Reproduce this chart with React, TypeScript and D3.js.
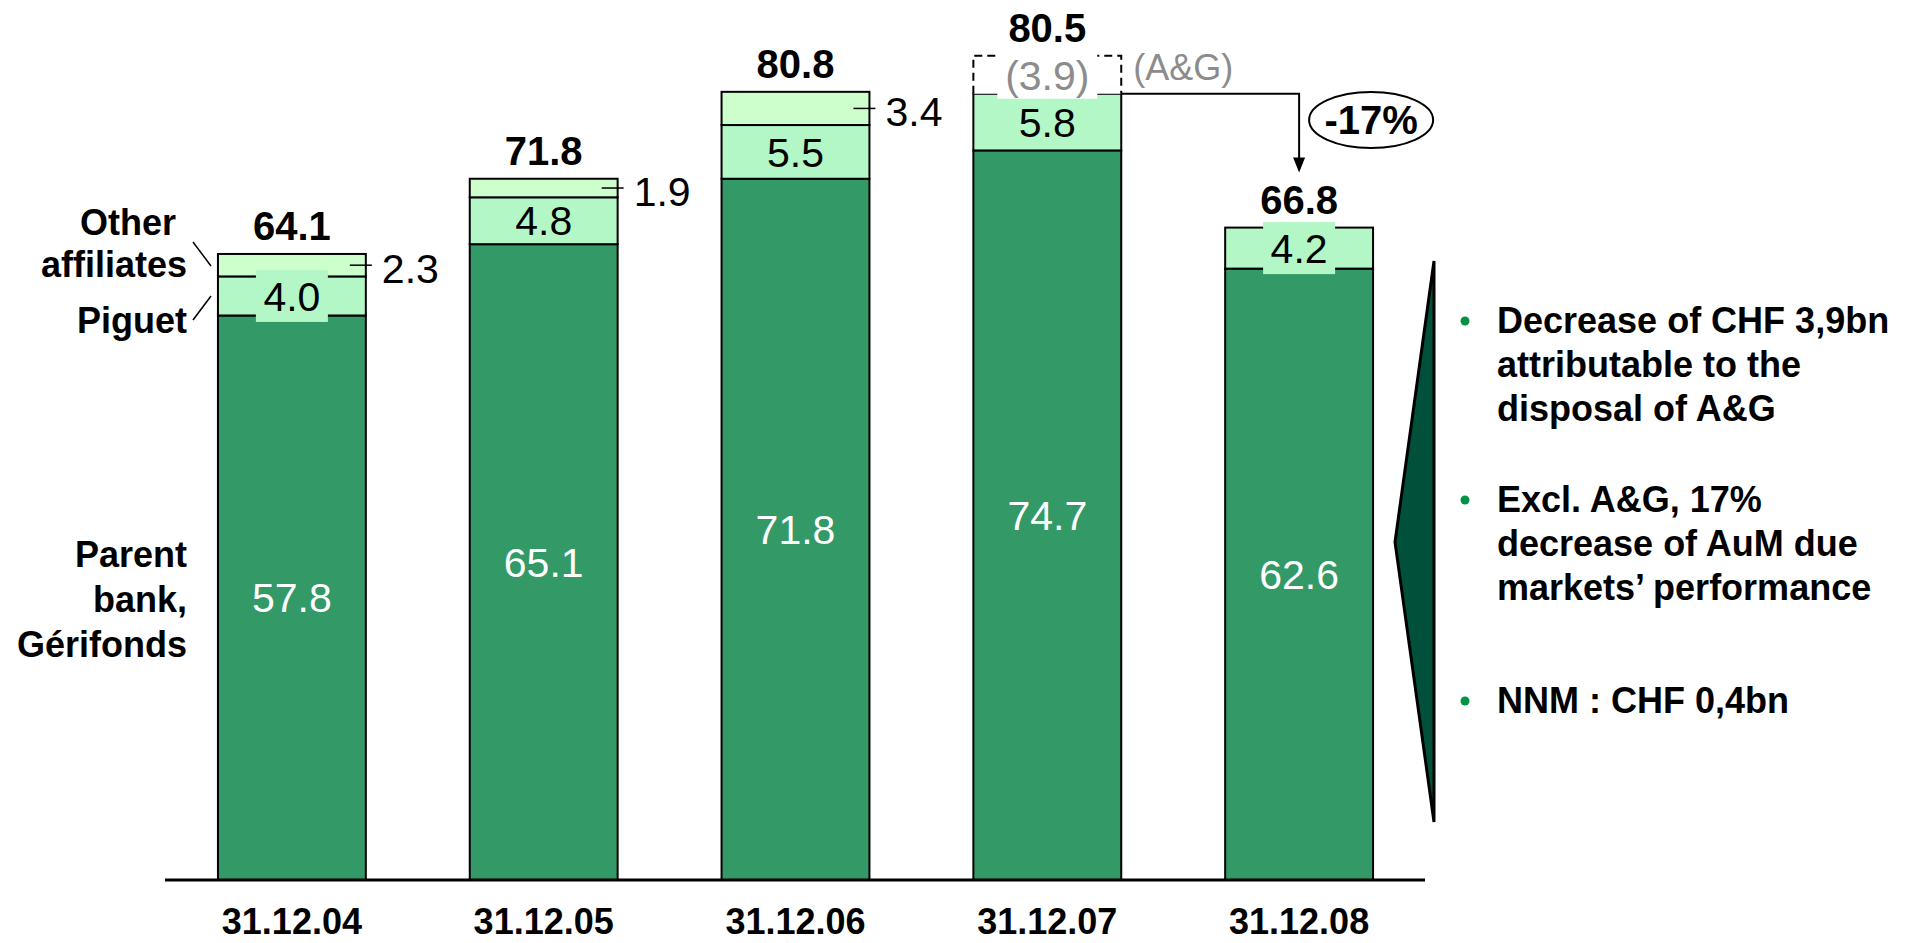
import React from 'react';
import * as d3 from 'd3';

const categories = ['31.12.04', '31.12.05', '31.12.06', '31.12.07', '31.12.08'];
const parentBank = [57.8, 65.1, 71.8, 74.7, 62.6];
const piguet = [4.0, 4.8, 5.5, 5.8, 4.2];
const otherAffiliates: (number | null)[] = [2.3, 1.9, 3.4, null, null];
const disposedAG: (number | null)[] = [null, null, null, 3.9, null];
const totals = [64.1, 71.8, 80.8, 80.5, 66.8];
const changeLabel = '-17%';
const disposedName = '(A&G)';
const seriesNames = { other: ['Other', 'affiliates'], piguet: ['Piguet'], parent: ['Parent', 'bank,', 'Gérifonds'] };
const bullets = [
  ['Decrease of CHF 3,9bn', 'attributable to the', 'disposal of A&G'],
  ['Excl. A&G, 17%', 'decrease of AuM due', 'markets’ performance'],
  ['NNM : CHF 0,4bn'],
];

const W = 1921;
const H = 943;
const FONT = '"Liberation Sans", Arial, Helvetica, sans-serif';
const C_PARENT = '#339966';
const C_PIGUET = '#b3f7c6';
const C_OTHER = '#ccffcc';
const C_TRI = '#00503a';
const C_BULLET = '#009245';
const C_GRAY = '#8c8c8c';

export default function App() {
  const x = d3.scaleBand<string>().domain(categories).range([166, 1425]).paddingInner(0.4127).paddingOuter(0.2063);
  const y = d3.scaleLinear().domain([0, 90]).range([880, 1]);
  const bw = x.bandwidth();
  const capV = 41 * 0.716;

  const bars = categories.map((c, i) => {
    const x0 = x(c)!;
    const cx = x0 + bw / 2;
    const p0 = 0;
    const p1 = parentBank[i];
    const g1 = p1 + piguet[i];
    const o = otherAffiliates[i];
    const g2 = o != null ? g1 + o : g1;
    const ag = disposedAG[i];
    const topVal = ag != null ? g2 + ag : g2;
    const pigH = y(p1) - y(g1);
    const pigMid = (y(p1) + y(g1)) / 2;
    const pigText = piguet[i].toFixed(1);
    return (
      <g key={c}>
        <rect x={x0} y={y(p1)} width={bw} height={y(p0) - y(p1)} fill={C_PARENT} stroke="#000" strokeWidth={2} />
        <rect x={x0} y={y(g1)} width={bw} height={pigH} fill={C_PIGUET} stroke="#000" strokeWidth={2} />
        {o != null && (
          <g>
            <rect x={x0} y={y(g2)} width={bw} height={y(g1) - y(g2)} fill={C_OTHER} stroke="#000" strokeWidth={2} />
            <line x1={x0 + bw - 16} x2={x0 + bw + 6} y1={(y(g1) + y(g2)) / 2} y2={(y(g1) + y(g2)) / 2} stroke="#000" strokeWidth={1.5} />
            <text x={x0 + bw + 16} y={(y(g1) + y(g2)) / 2 + 3 + capV / 2} fontSize={41} fontFamily={FONT} fill="#000">
              {o.toFixed(1)}
            </text>
          </g>
        )}
        {ag != null && (
          <g>
            <path
              d={`M${x0},${y(g2)} L${x0},${y(topVal)} L${x0 + bw},${y(topVal)} L${x0 + bw},${y(g2)}`}
              fill="#fff"
              stroke="#000"
              strokeWidth={2}
              strokeDasharray="8,5"
            />
            <rect x={cx - 50} y={(y(g2) + y(topVal)) / 2 + 1 - 23} width={100} height={46} fill="#fff" />
            <text x={cx} y={(y(g2) + y(topVal)) / 2 + 1 + capV / 2} textAnchor="middle" fontSize={41} fontFamily={FONT} fill={C_GRAY}>
              {`(${ag.toFixed(1)})`}
            </text>
            <text x={x0 + bw + 12} y={80} fontSize={36} fontFamily={FONT} fill={C_GRAY}>
              {disposedName}
            </text>
          </g>
        )}
        {pigH < 44 && <rect x={cx - 36} y={pigMid - 26} width={72} height={52} fill={C_PIGUET} />}
        <text x={cx} y={pigMid + capV / 2} textAnchor="middle" fontSize={41} fontFamily={FONT} fill="#000">
          {pigText}
        </text>
        <text x={cx} y={(y(p0) + y(p1)) / 2 + capV / 2} textAnchor="middle" fontSize={41} fontFamily={FONT} fill="#fff">
          {parentBank[i].toFixed(1)}
        </text>
        <text x={cx} y={y(topVal) - 14} textAnchor="middle" fontSize={40} fontWeight="bold" fontFamily={FONT} fill="#000">
          {totals[i].toFixed(1)}
        </text>
        <text x={cx} y={934} textAnchor="middle" fontSize={36} fontWeight="bold" fontFamily={FONT} fill="#000">
          {c}
        </text>
      </g>
    );
  });

  const c4 = categories[3];
  const c5 = categories[4];
  const startX = x(c4)! + bw;
  const lineY = y(parentBank[3] + piguet[3]);
  const endX = x(c5)! + bw / 2;
  const tipY = y(totals[4]) - 55;
  const ellX = endX + 72;
  const ellY = 120;

  return (
    <svg width={W} height={H} style={{ position: 'absolute', left: 0, top: 0, display: 'block' }} xmlns="http://www.w3.org/2000/svg">
      <rect x={0} y={0} width={W} height={H} fill="#fff" />
      {bars}
      <line x1={165} x2={1425} y1={y(0)} y2={y(0)} stroke="#000" strokeWidth={3} />

      <path d={`M${startX},${lineY} L${endX},${lineY} L${endX},${tipY - 14}`} fill="none" stroke="#000" strokeWidth={2} />
      <path d={`M${endX - 6},${tipY - 15} L${endX + 6},${tipY - 15} L${endX},${tipY} Z`} fill="#000" />
      <ellipse cx={ellX} cy={ellY} rx={62} ry={28} fill="#fff" stroke="#000" strokeWidth={2} />
      <text x={ellX} y={ellY + 14} textAnchor="middle" fontSize={40} fontWeight="bold" fontFamily={FONT} fill="#000">
        {changeLabel}
      </text>

      <g fontSize={36} fontWeight="bold" fontFamily={FONT} fill="#000" textAnchor="end">
        <text x={176} y={235}>{seriesNames.other[0]}</text>
        <text x={187} y={277}>{seriesNames.other[1]}</text>
        <text x={187} y={333}>{seriesNames.piguet[0]}</text>
        {seriesNames.parent.map((t, i) => (
          <text key={t} x={187} y={567 + i * 45}>{t}</text>
        ))}
      </g>
      <line x1={193} y1={242} x2={211} y2={266} stroke="#000" strokeWidth={1.5} />
      <line x1={193} y1={320} x2={211} y2={296} stroke="#000" strokeWidth={1.5} />

      <path d="M1434,261 L1395,542 L1434,822 Z" fill={C_TRI} stroke="#000" strokeWidth={3} strokeLinejoin="miter" />

      {bullets.map((lines, bi) => {
        const starts = [333, 512, 713];
        const by = starts[bi];
        return (
          <g key={bi}>
            <circle cx={1465} cy={by - 12} r={4.5} fill={C_BULLET} />
            {lines.map((t, li) => (
              <text key={li} x={1497} y={by + li * 44} fontSize={36} fontWeight="bold" fontFamily={FONT} fill="#000">
                {t}
              </text>
            ))}
          </g>
        );
      })}
    </svg>
  );
}
